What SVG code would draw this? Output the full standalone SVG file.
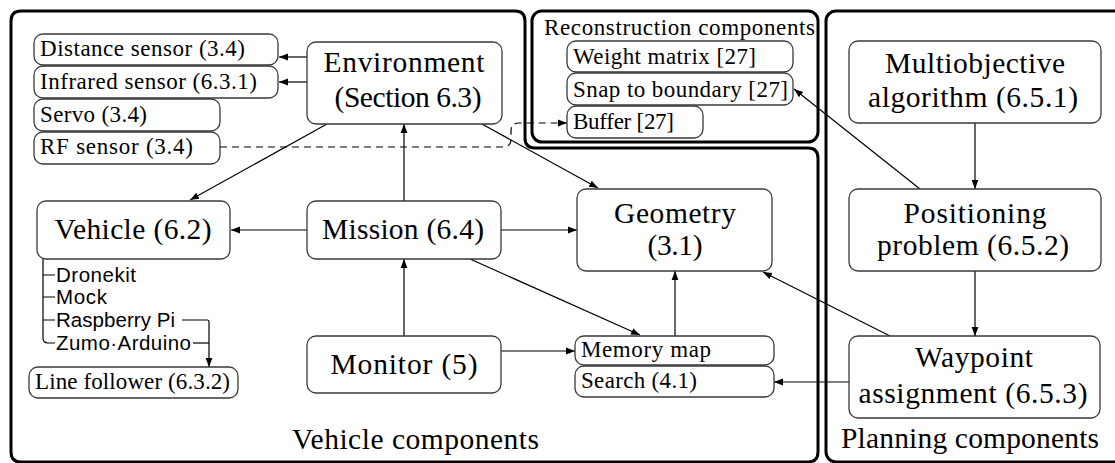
<svg xmlns="http://www.w3.org/2000/svg" width="1115" height="463" viewBox="0 0 1115 463">
<style>
.box{fill:#fff;stroke:#3a3a3a;stroke-width:1.3}
.cont{fill:none;stroke:#000;stroke-width:3}
.edge{fill:none;stroke:#000;stroke-width:1.2}
.dash{stroke-dasharray:7 5}
.L{font-family:"Liberation Serif",serif;font-size:29.5px;fill:#000}
.S{font-family:"Liberation Serif",serif;font-size:23px;fill:#000}
.sans{font-family:"Liberation Sans",sans-serif;font-size:20.5px;fill:#000}
.m{text-anchor:middle}
</style>
<defs>
<marker id="arr" markerUnits="userSpaceOnUse" markerWidth="10" markerHeight="8" refX="9" refY="4" orient="auto">
<path d="M0,0.6 L9,4 L0,7.4 Z" fill="#000"/>
</marker>
</defs>
<rect width="1115" height="463" fill="#fff"/>

<g id="containers">
<path id="vehicle-components" class="cont" d="M21,11 H515 Q525,11 525,21 V138 Q525,148 535,148 H808 Q818,148 818,158 V452 Q818,462 808,462 H21 Q11,462 11,452 V21 Q11,11 21,11 Z"/>
<rect id="reconstruction-components" class="cont" x="532" y="11" width="286" height="131" rx="10" stroke-width="3.5"/>
<rect id="planning-components" class="cont" x="826" y="11" width="300" height="451" rx="10"/>
<text class="S" x="544" y="35" textLength="271">Reconstruction components</text>
<text class="L" x="292" y="449" textLength="247">Vehicle components</text>
<text class="L" x="841" y="448" textLength="258">Planning components</text>
</g>

<g id="connectors">
<path class="edge" d="M307,57 H279" marker-end="url(#arr)"/>
<path class="edge" d="M307,82 H279" marker-end="url(#arr)"/>
<path class="edge" d="M327,124 L190,200" marker-end="url(#arr)"/>
<path class="edge" d="M482,124 L598,188" marker-end="url(#arr)"/>
<path class="edge" d="M404,201 V124" marker-end="url(#arr)"/>
<path class="edge" d="M307,230 H231" marker-end="url(#arr)"/>
<path class="edge" d="M501,230 H577" marker-end="url(#arr)"/>
<path class="edge" d="M470,259 L640,335" marker-end="url(#arr)"/>
<path class="edge" d="M404,336 V259" marker-end="url(#arr)"/>
<path class="edge" d="M501,351 H575" marker-end="url(#arr)"/>
<path class="edge" d="M675,336 V271" marker-end="url(#arr)"/>
<path class="edge dash" d="M220,147 H503 Q511,147 511,139 V131 Q511,123 519,123 H567" marker-end="url(#arr)"/>
<path class="edge" d="M43,259 V338 Q43,343 48,343 H55 M43,275 H55 M43,297 H55 M43,320 H55"/>
<path class="edge" d="M182,320 H207 Q209,320 209,322 V367" marker-end="url(#arr)"/>
<path class="edge" d="M193,343 H209"/>
<path class="edge" d="M975,123 V189" marker-end="url(#arr)"/>
<path class="edge" d="M975,271 V336" marker-end="url(#arr)"/>
<path class="edge" d="M920,189 L794,89" marker-end="url(#arr)"/>
<path class="edge" d="M890,336 L763,272" marker-end="url(#arr)"/>
<path class="edge" d="M849,382 H774" marker-end="url(#arr)"/>
</g>

<g id="distance-sensor"><rect class="box" x="34" y="34" width="244" height="31" rx="9"/><text class="S" x="40" y="56" textLength="205">Distance sensor (3.4)</text></g>
<g id="infrared-sensor"><rect class="box" x="34" y="66" width="244" height="32" rx="9"/><text class="S" x="40" y="89" textLength="217">Infrared sensor (6.3.1)</text></g>
<g id="servo"><rect class="box" x="34" y="99" width="186" height="32" rx="9"/><text class="S" x="40" y="122" textLength="107">Servo (3.4)</text></g>
<g id="rf-sensor"><rect class="box" x="34" y="132" width="186" height="32" rx="9"/><text class="S" x="40" y="154" textLength="153">RF sensor (3.4)</text></g>

<g id="environment"><rect class="box" x="307" y="42" width="195" height="82" rx="9"/><text class="L m" x="404" y="72" textLength="161">Environment</text><text class="L m" x="408" y="107" textLength="147">(Section 6.3)</text></g>
<g id="vehicle"><rect class="box" x="37" y="201" width="193" height="58" rx="9"/><text class="L m" x="133" y="239" textLength="157">Vehicle (6.2)</text>
<text class="sans" x="56" y="282" textLength="80">Dronekit</text>
<text class="sans" x="56" y="304" textLength="51">Mock</text>
<text class="sans" x="56" y="327" textLength="119">Raspberry Pi</text>
<text class="sans" x="56" y="350" textLength="135">Zumo·Arduino</text></g>
<g id="line-follower"><rect class="box" x="29" y="367" width="209" height="31" rx="9"/><text class="S" x="35" y="389" textLength="195">Line follower (6.3.2)</text></g>
<g id="mission"><rect class="box" x="307" y="201" width="194" height="58" rx="9"/><text class="L m" x="403" y="239" textLength="162">Mission (6.4)</text></g>
<g id="monitor"><rect class="box" x="307" y="336" width="194" height="57" rx="9"/><text class="L m" x="404" y="374" textLength="147">Monitor (5)</text></g>
<g id="geometry"><rect class="box" x="577" y="189" width="195" height="82" rx="9"/><text class="L m" x="675" y="223" textLength="122">Geometry</text><text class="L m" x="675" y="255" textLength="55">(3.1)</text></g>
<g id="memory-map"><rect class="box" x="575" y="336" width="199" height="29" rx="9"/><text class="S" x="581" y="357" textLength="130">Memory map</text></g>
<g id="search"><rect class="box" x="575" y="366" width="199" height="31" rx="9"/><text class="S" x="581" y="388" textLength="116">Search (4.1)</text></g>

<g id="weight-matrix"><rect class="box" x="567" y="41" width="226" height="31" rx="9"/><text class="S" x="573" y="64" textLength="183">Weight matrix [27]</text></g>
<g id="snap-to-boundary"><rect class="box" x="567" y="73" width="226" height="32" rx="9"/><text class="S" x="573" y="97" textLength="215">Snap to boundary [27]</text></g>
<g id="buffer"><rect class="box" x="567" y="106" width="136" height="32" rx="9"/><text class="S" x="573" y="129" textLength="101">Buffer [27]</text></g>

<g id="multiobjective"><rect class="box" x="849" y="41" width="252" height="82" rx="9"/><text class="L m" x="975" y="73" textLength="180">Multiobjective</text><text class="L m" x="973" y="107" textLength="210">algorithm (6.5.1)</text></g>
<g id="positioning"><rect class="box" x="849" y="189" width="252" height="82" rx="9"/><text class="L m" x="975" y="223" textLength="143">Positioning</text><text class="L m" x="973" y="255" textLength="192">problem (6.5.2)</text></g>
<g id="waypoint"><rect class="box" x="849" y="336" width="251" height="82" rx="9"/><text class="L m" x="974" y="367" textLength="118">Waypoint</text><text class="L m" x="973" y="403" textLength="229">assignment (6.5.3)</text></g>
</svg>
